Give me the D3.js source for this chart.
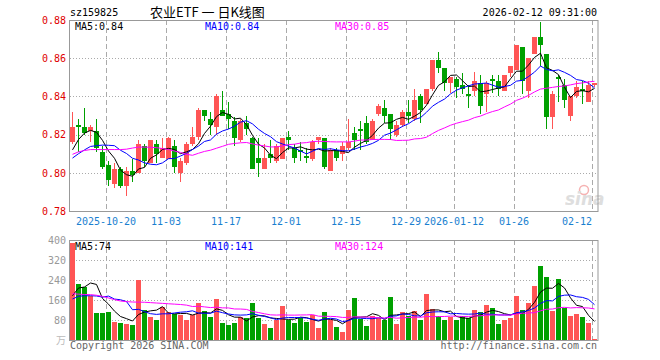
<!DOCTYPE html>
<html>
<head>
<meta charset="utf-8">
<script src="https://cdn.jsdelivr.net/npm/d3@7/dist/d3.min.js"></script>
<style>
  body { margin: 0; background: #fff; }
  svg { display: block; }
  text { font-family: "DejaVu Sans Mono", monospace; font-size: 10px; }
</style>
</head>
<body>
<div id="chart"></div>
<script>
// trading days shown on the chart
const oct25 = [10,13,14,15,16,17,20,21,22,23,24,27,28,29,30,31];
const nov25 = [3,4,5,6,7,10,11,12,13,14,17,18,19,20,21,24,25,26,27,28];
const dec25 = [1,2,3,4,5,8,9,10,11,12,15,16,17,18,19,22,23,24,25,26,29,30,31];
const jan26 = [5,6,7,8,9,12,13,14,15,16,19,20,21,22,23,26,27,28,29,30];
const feb26 = [2,3,4,5,6,9,10,11,12];

const tickDates  = ["2025-10-20","2025-11-03","2025-11-17","2025-12-01","2025-12-15","2025-12-29","2026-01-12","2026-01-26","2026-02-12"];
const tickLabels = ["2025-10-20","11-03","11-17","12-01","12-15","12-29","2026-01-12","01-26","02-12"];

const opens  = [.816,.825,.824,.822,.822,.811,.804,.794,.802,.793,.801,.800,.814,.805,.815,.808,.807,.814,.800,.805,
                .815,.819,.833,.828,.824,.833,.831,.827,.817,.826,.818,.808,.802,.810,.806,.807,.819,.813,.812,.809,
                .807,.817,.818,.801,.812,.810,.813,.821,.823,.826,.817,.831,.834,.831,.820,.825,.832,.828,.840,.836,
                .844,.859,.855,.847,.849,.846,.841,.843,.847,.841,.849,.848,.843,.852,.854,.866,.843,.862,.871,.862,
                .829,.850,.846,.830,.840,.844,.837,.846];
const highs  = [.832,.828,.834,.825,.828,.814,.806,.805,.803,.803,.807,.817,.815,.817,.817,.818,.819,.817,.808,.816,
                .824,.834,.833,.832,.841,.843,.837,.829,.828,.830,.819,.818,.815,.817,.815,.818,.822,.815,.816,.813,
                .817,.819,.818,.813,.813,.816,.828,.824,.827,.830,.828,.836,.838,.831,.827,.833,.838,.844,.841,.844,
                .859,.863,.855,.848,.850,.852,.846,.853,.851,.848,.851,.851,.851,.856,.867,.866,.860,.871,.879,.862,
                .843,.851,.849,.840,.848,.848,.848,.847];
const lows   = [.815,.811,.820,.816,.811,.802,.793,.792,.792,.788,.795,.800,.803,.805,.805,.808,.807,.800,.795,.804,
                .814,.817,.827,.820,.820,.830,.823,.814,.816,.820,.802,.798,.802,.805,.805,.807,.812,.805,.806,.805,
                .806,.815,.802,.801,.806,.806,.812,.812,.812,.815,.817,.830,.826,.817,.819,.824,.826,.827,.826,.836,
                .843,.852,.843,.842,.839,.841,.834,.840,.831,.832,.842,.840,.843,.850,.854,.841,.839,.862,.856,.823,
                .823,.837,.834,.827,.839,.836,.837,.845];
const closes = [.824,.824,.821,.824,.813,.803,.796,.802,.793,.801,.799,.815,.806,.817,.810,.813,.818,.803,.806,.815,
                .819,.833,.830,.825,.840,.830,.828,.818,.827,.823,.802,.805,.808,.808,.814,.818,.817,.808,.811,.808,
                .816,.819,.803,.812,.808,.814,.816,.817,.822,.816,.827,.835,.830,.823,.825,.832,.830,.838,.833,.844,
                .859,.855,.847,.850,.845,.844,.840,.848,.835,.847,.848,.844,.851,.856,.867,.848,.860,.871,.867,.829,
                .841,.849,.838,.840,.845,.843,.846,.847];
// volume, 万
const volumes = [388,226,213,176,108,108,112,73,69,65,61,242,121,94,79,132,112,106,100,82,
                 100,148,117,93,165,69,61,69,92,90,148,88,65,49,81,137,80,70,88,72,
                 100,48,112,81,51,33,121,169,84,57,95,88,81,172,65,113,97,115,79,185,
                 125,97,79,92,79,95,88,122,113,140,129,65,79,89,175,121,149,218,297,253,
                 118,245,128,98,105,93,70,5];

// sessions before the first visible day (needed for the moving averages)
const preCloses  = [.785,.800,.809,.813,.803,.796,.802,.793,.795,.781,.800,.806,.820,.816,.828,
                    .833,.827,.827,.845,.834,.801,.801,.806,.809,.800,.797,.804,.817,.818];
const preVolumes = [271,258,191,183,243,307,268,234,140,106,257,136,139,124,177,
                    157,151,145,157,265,116,193,176,118,152,71,193,96,137];

const priceTicks = [0.78, 0.80, 0.82, 0.84, 0.86, 0.88];
const volTicks   = [80, 160, 240, 320, 400];

const pad = d => (d < 10 ? "0" : "") + d;
const dates = [].concat(
  oct25.map(d => "2025-10-" + pad(d)),
  nov25.map(d => "2025-11-" + pad(d)),
  dec25.map(d => "2025-12-" + pad(d)),
  jan26.map(d => "2026-01-" + pad(d)),
  feb26.map(d => "2026-02-" + pad(d)));

const data = dates.map((d, i) => ({date: d, o: opens[i], h: highs[i], l: lows[i], c: closes[i], v: volumes[i]}));

function movingAvg(pre, vals, n) {
  const all = pre.concat(vals);
  return vals.map((_, i) => {
    const end = pre.length + i;
    return d3.mean(all.slice(end - n + 1, end + 1));
  });
}

const maDefs = [
  {n: 5,  color: "#000000"},
  {n: 10, color: "#0000ff"},
  {n: 30, color: "#ff00ff"}
];

const W = 660, H = 360;
const left = 70, right = 598;
const pTop = 20, pBottom = 211;
const vTop = 240, vBottom = 340;
const RED = "#ff5555", GREEN = "#00a000";

const svg = d3.select("#chart").append("svg")
  .attr("width", W).attr("height", H);

const x = d3.scaleBand().domain(dates).range([left, right]);
const bw = x.step() - 1;
const cx = d => x(d) + bw / 2;

const y = d3.scaleLinear().domain([0.78, 0.88]).range([pBottom, pTop]);
const yv = d3.scaleLinear().domain([0, 400]).range([vBottom, vTop]);

svg.append("clipPath").attr("id", "clipP").append("rect")
  .attr("x", left).attr("y", pTop).attr("width", right - left).attr("height", pBottom - pTop);
svg.append("clipPath").attr("id", "clipV").append("rect")
  .attr("x", left).attr("y", vTop).attr("width", right - left).attr("height", vBottom - vTop);

// header
svg.append("text").attr("x", 70).attr("y", 16).attr("fill", "#000").text("sz159825");
svg.append("text").attr("x", 150).attr("y", 17).attr("fill", "#000")
  .style("font-family", "'Noto Sans CJK SC', sans-serif").style("font-size", "13px")
  .attr("xml:space", "preserve").text("农业ETF 一 日K线图");
svg.append("text").attr("x", 597).attr("y", 16).attr("text-anchor", "end").attr("fill", "#000")
  .text("2026-02-12 09:31:00");

// grids
function drawGrid(yScale, ticks, top, bottom) {
  svg.append("g").selectAll("line").data(ticks).join("line")
    .attr("x1", left).attr("x2", right)
    .attr("y1", d => Math.round(yScale(d)) + 0.5).attr("y2", d => Math.round(yScale(d)) + 0.5)
    .attr("stroke", "#aaa").attr("stroke-dasharray", "1,2");
  svg.append("g").selectAll("line").data(tickDates).join("line")
    .attr("x1", d => x(d) + 0.5).attr("x2", d => x(d) + 0.5)
    .attr("y1", top).attr("y2", bottom)
    .attr("stroke", "#aaa").attr("stroke-dasharray", "5,3");
}
drawGrid(y, [0.80, 0.82, 0.84, 0.86], pTop, pBottom);
drawGrid(yv, [80, 160, 240, 320], vTop, vBottom);

// sina watermark
const wm = svg.append("g").attr("opacity", 0.8);
wm.append("circle").attr("cx", 584).attr("cy", 190).attr("r", 4.5)
  .attr("fill", "none").attr("stroke", "#f4a0a0").attr("stroke-width", 1.5);
wm.append("text").attr("x", 565).attr("y", 205)
  .style("font-family", "'DejaVu Sans', sans-serif").style("font-size", "17px")
  .style("font-weight", "bold").style("font-style", "italic")
  .attr("fill", "#d6d6d6").text("sina");

// candles
const candles = svg.append("g").attr("clip-path", "url(#clipP)").attr("shape-rendering", "crispEdges");
candles.selectAll("line").data(data).join("line")
  .attr("x1", d => Math.floor(cx(d.date)) + 0.5).attr("x2", d => Math.floor(cx(d.date)) + 0.5)
  .attr("y1", d => y(d.h)).attr("y2", d => y(d.l))
  .attr("stroke", d => d.c >= d.o ? RED : GREEN);
candles.selectAll("rect").data(data).join("rect")
  .attr("x", d => x(d.date)).attr("width", bw)
  .attr("y", d => y(Math.max(d.o, d.c)))
  .attr("height", d => Math.max(1, Math.abs(y(d.o) - y(d.c))))
  .attr("fill", d => d.c >= d.o ? RED : GREEN);

// volume bars
svg.append("g").attr("shape-rendering", "crispEdges").selectAll("rect").data(data).join("rect")
  .attr("x", d => x(d.date)).attr("width", bw)
  .attr("y", d => yv(d.v)).attr("height", d => vBottom - yv(d.v))
  .attr("fill", d => d.c >= d.o ? RED : GREEN);

// moving averages
const priceMA = maDefs.map(m => movingAvg(preCloses, closes, m.n));
const volMA = maDefs.map(m => movingAvg(preVolumes, volumes, m.n));

maDefs.forEach((m, k) => {
  svg.append("path").attr("clip-path", "url(#clipP)")
    .attr("d", d3.line().x((v, i) => cx(dates[i])).y(v => y(v))(priceMA[k]))
    .attr("fill", "none").attr("stroke", m.color).attr("stroke-width", 1);
  svg.append("path").attr("clip-path", "url(#clipV)")
    .attr("d", d3.line().x((v, i) => cx(dates[i])).y(v => yv(v))(volMA[k]))
    .attr("fill", "none").attr("stroke", m.color).attr("stroke-width", 1);
});

// frames
[[pTop, pBottom], [vTop, vBottom]].forEach(([t, b]) => {
  svg.append("rect").attr("x", left - 0.5).attr("y", t + 0.5)
    .attr("width", right - left + 0.5).attr("height", b - t)
    .attr("fill", "none").attr("stroke", "#999");
});

// legends
const legendX = [75, 205, 335];
maDefs.forEach((m, k) => {
  const last = priceMA[k][priceMA[k].length - 1];
  svg.append("text").attr("x", legendX[k]).attr("y", 30).attr("fill", m.color)
    .text("MA" + m.n + ":" + last.toFixed(2));
  const lastV = volMA[k][volMA[k].length - 1];
  svg.append("text").attr("x", legendX[k]).attr("y", 250).attr("fill", m.color)
    .text("MA" + m.n + ":" + Math.round(lastV));
});

// axes
const yAxis = svg.append("g").attr("transform", `translate(${left},0)`)
  .call(d3.axisLeft(y).tickValues(priceTicks).tickFormat(d3.format(".2f")).tickSize(0).tickPadding(4));
yAxis.select(".domain").remove();
yAxis.selectAll("text").attr("fill", "#e00000")
  .style("font-family", "'DejaVu Sans Mono', monospace").style("font-size", "10px");

const vAxis = svg.append("g").attr("transform", `translate(${left},0)`)
  .call(d3.axisLeft(yv).tickValues(volTicks).tickSize(0).tickPadding(4));
vAxis.select(".domain").remove();
vAxis.selectAll("text").attr("fill", "#999")
  .style("font-family", "'DejaVu Sans Mono', monospace").style("font-size", "10px");
svg.append("text").attr("x", 66).attr("y", 344).attr("text-anchor", "end").attr("fill", "#bbb")
  .style("font-family", "'Noto Sans CJK SC', sans-serif").style("font-size", "10px").text("万");

const xLabels = svg.append("g");
tickDates.forEach((d, i) => {
  const t = xLabels.append("text").attr("y", 225).attr("fill", "#1a7fd0")
    .attr("text-anchor", "middle").text(tickLabels[i]);
  const w = t.node().getComputedTextLength();
  let px = x(d);
  if (px + w / 2 > right - 6) px = right - 6 - w / 2;
  t.attr("x", px);
});

// footer
svg.append("text").attr("x", 70).attr("y", 349).attr("fill", "#666").text("Copyright 2026 SINA.COM");
svg.append("text").attr("x", 597).attr("y", 349).attr("text-anchor", "end").attr("fill", "#666")
  .text("http://finance.sina.com.cn");
</script>
</body>
</html>
